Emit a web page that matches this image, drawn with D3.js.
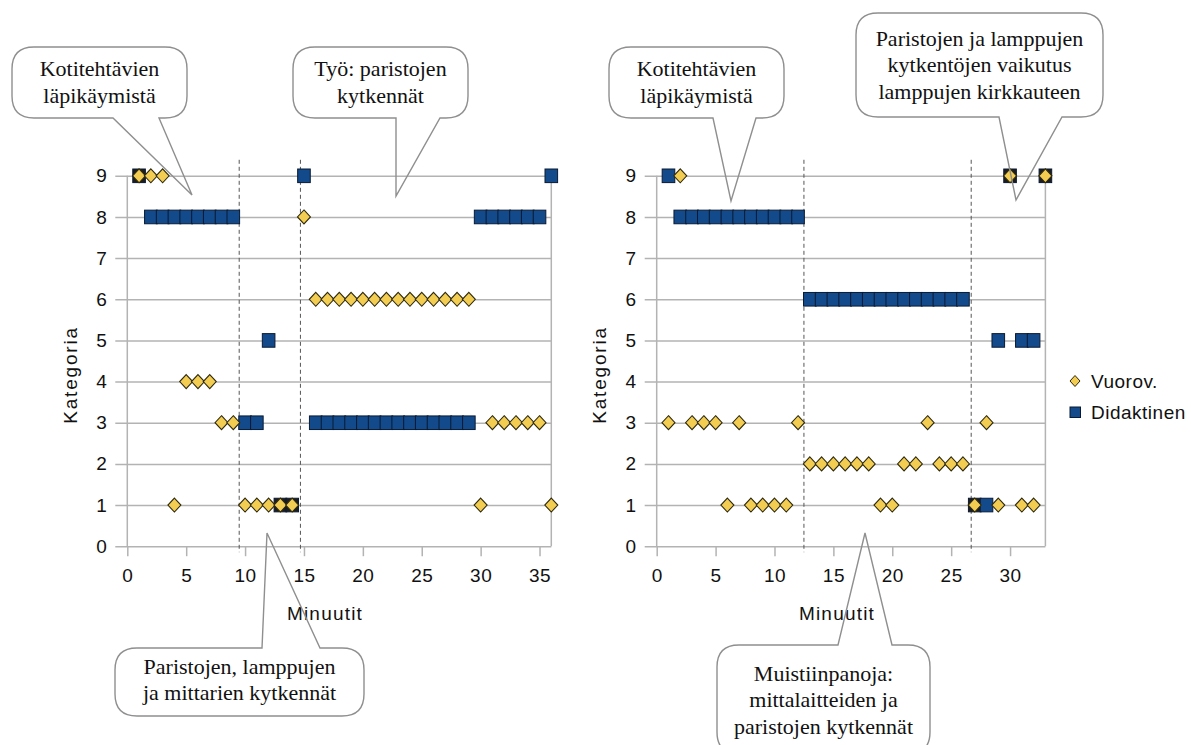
<!DOCTYPE html>
<html>
<head>
<meta charset="utf-8">
<script src="https://d3js.org/d3.v7.min.js"></script>
<style>
    body { margin: 0; background: #fff; }
    svg text { font-family: "Liberation Sans", Arial, sans-serif; }
    .axis text { font-size: 19px; letter-spacing: 0.5px; fill: #111; }
    .axis-title { font-size: 19px; letter-spacing: 1.2px; fill: #111; }
    .legend text { font-size: 19px; letter-spacing: 0.5px; fill: #111; }
    .callout text { font-family: "Liberation Serif", "Times New Roman", serif; font-size: 22px; fill: #111; }
</style>
</head>
<body>
<div id="chart"></div>
<script>

// ---- data: [minuutti, kategoria] ----
var yTicks = [0, 1, 2, 3, 4, 5, 6, 7, 8, 9];
var leftXTicks = [0, 5, 10, 15, 20, 25, 30, 35];
var rightXTicks = [0, 5, 10, 15, 20, 25, 30];
var seriesNames = ["Vuorov.", "Didaktinen"];

var leftVuorov = [
    [1, 9], [2, 9], [3, 9],
    [15, 8],
    [16, 6], [17, 6], [18, 6], [19, 6], [20, 6], [21, 6], [22, 6],
    [23, 6], [24, 6], [25, 6], [26, 6], [27, 6], [28, 6], [29, 6],
    [5, 4], [6, 4], [7, 4],
    [8, 3], [9, 3], [31, 3], [32, 3], [33, 3], [34, 3], [35, 3],
    [4, 1], [10, 1], [11, 1], [12, 1], [13, 1], [14, 1], [30, 1], [36, 1]
];
var leftDidaktinen = [
    [1, 9], [15, 9], [36, 9],
    [2, 8], [3, 8], [4, 8], [5, 8], [6, 8], [7, 8], [8, 8], [9, 8],
    [30, 8], [31, 8], [32, 8], [33, 8], [34, 8], [35, 8],
    [12, 5],
    [10, 3], [11, 3],
    [16, 3], [17, 3], [18, 3], [19, 3], [20, 3], [21, 3], [22, 3],
    [23, 3], [24, 3], [25, 3], [26, 3], [27, 3], [28, 3], [29, 3],
    [13, 1], [14, 1]
];
var leftDividers = [9.5, 14.7];

var rightVuorov = [
    [2, 9], [30, 9], [33, 9],
    [1, 3], [3, 3], [4, 3], [5, 3], [7, 3], [12, 3], [23, 3], [28, 3],
    [13, 2], [14, 2], [15, 2], [16, 2], [17, 2], [18, 2], [21, 2], [22, 2], [24, 2], [25, 2], [26, 2],
    [6, 1], [8, 1], [9, 1], [10, 1], [11, 1], [19, 1], [20, 1], [27, 1], [29, 1], [31, 1], [32, 1]
];
var rightDidaktinen = [
    [1, 9], [30, 9], [33, 9],
    [2, 8], [3, 8], [4, 8], [5, 8], [6, 8], [7, 8], [8, 8], [9, 8], [10, 8], [11, 8], [12, 8],
    [13, 6], [14, 6], [15, 6], [16, 6], [17, 6], [18, 6], [19, 6],
    [20, 6], [21, 6], [22, 6], [23, 6], [24, 6], [25, 6], [26, 6],
    [29, 5], [31, 5], [32, 5],
    [27, 1], [28, 1]
];
var rightDividers = [12.5, 26.7];

// callout texts and where they sit on the page
var callouts = [
    { lines: ["Kotitehtävien", "läpikäymistä"], box: [12, 47, 187, 118], side: "bottom", base: [113, 159], tip: [192, 195] },
    { lines: ["Työ: paristojen", "kytkennät"], box: [293, 47, 468, 118], side: "bottom", base: [396, 440], tip: [396, 196] },
    { lines: ["Kotitehtävien", "läpikäymistä"], box: [609, 47, 784, 118], side: "bottom", base: [713, 756], tip: [731, 201] },
    { lines: ["Paristojen ja lamppujen", "kytkentöjen vaikutus", "lamppujen kirkkauteen"], box: [856, 13, 1103, 117], side: "bottom", base: [999, 1062], tip: [1016, 200] },
    { lines: ["Paristojen, lamppujen", "ja mittarien kytkennät"], box: [115, 648, 364, 716], side: "top", base: [262, 320], tip: [267, 533] },
    { lines: ["Muistiinpanoja:", "mittalaitteiden ja", "paristojen kytkennät"], box: [717, 645, 930, 754], side: "top", base: [838, 892], tip: [865, 533] }
];

var BLUE = "#134a8b", YELLOW = "#f2cd52";

var svg = d3.select("#chart").append("svg")
    .attr("width", 1191)
    .attr("height", 745);


/*
 * TimelineVis - one scatter of minutes vs category
 */
TimelineVis = function(_svg, _vuorov, _didaktinen, _xMax, _xTicks, _dividers, _pos) {
    this.svg = _svg;
    this.vuorov = _vuorov;
    this.didaktinen = _didaktinen;
    this.xMax = _xMax;
    this.xTicks = _xTicks;
    this.dividers = _dividers;
    this.pos = _pos;

    this.initVis();
};

TimelineVis.prototype.initVis = function() {
    var vis = this;

    vis.width = vis.pos.width;
    vis.height = vis.pos.height;

    vis.g = vis.svg.append("g")
        .attr("transform", "translate(" + vis.pos.left + "," + vis.pos.top + ")");

    vis.x = d3.scaleLinear()
        .domain([0, vis.xMax])
        .range([0, vis.width]);

    vis.y = d3.scaleLinear()
        .domain([0, 9])
        .range([vis.height, 0]);

    // y axis doubles as horizontal grid, ticks stick out 12px on the left
    vis.yAxis = d3.axisLeft(vis.y)
        .tickValues(yTicks)
        .tickSize(-(vis.width + 12))
        .tickPadding(8);

    vis.xAxis = d3.axisBottom(vis.x)
        .tickValues(vis.xTicks)
        .tickSize(10)
        .tickPadding(12);

    vis.g.append("g")
        .attr("class", "y-axis axis")
        .attr("transform", "translate(-12,0)")
        .style("color", "#b3b3b3")
        .call(vis.yAxis)
        .call(function(g) { g.select(".domain").remove(); });

    vis.g.append("g")
        .attr("class", "x-axis axis")
        .attr("transform", "translate(0," + vis.height + ")")
        .style("color", "#b3b3b3")
        .call(vis.xAxis)
        .call(function(g) { g.select(".domain").remove(); });

    vis.g.selectAll("line").attr("stroke-width", 1.5);

    // left axis + right frame
    vis.g.selectAll(".frame")
        .data([0, vis.xMax])
        .enter()
        .append("line")
        .attr("class", "frame")
        .attr("x1", function(d) { return vis.x(d); })
        .attr("x2", function(d) { return vis.x(d); })
        .attr("y1", vis.y(9))
        .attr("y2", vis.y(0))
        .attr("stroke", "#b3b3b3")
        .attr("stroke-width", 1.5);

    // phase dividers
    vis.g.selectAll(".divider")
        .data(vis.dividers)
        .enter()
        .append("line")
        .attr("class", "divider")
        .attr("x1", function(d) { return vis.x(d); })
        .attr("x2", function(d) { return vis.x(d); })
        .attr("y1", -16)
        .attr("y2", vis.height + 6)
        .attr("stroke", "#555")
        .attr("stroke-width", 1)
        .attr("stroke-dasharray", "4,3");

    // squares under diamonds; where both coincide the square goes black
    var both = {};
    vis.vuorov.forEach(function(d) { both[d[0] + "_" + d[1]] = true; });

    vis.g.selectAll(".dida")
        .data(vis.didaktinen)
        .enter()
        .append("rect")
        .attr("class", "dida")
        .attr("x", function(d) { return vis.x(d[0]) - 6.3; })
        .attr("y", function(d) { return vis.y(d[1]) - 6.8; })
        .attr("width", 12.6)
        .attr("height", 13.6)
        .attr("fill", function(d) { return both[d[0] + "_" + d[1]] ? "#1d1d1d" : BLUE; })
        .attr("stroke", "#0a1a33")
        .attr("stroke-width", 1);

    vis.g.selectAll(".vuor")
        .data(vis.vuorov)
        .enter()
        .append("path")
        .attr("class", "vuor")
        .attr("d", "M0,-7L6.5,0L0,7L-6.5,0Z")
        .attr("transform", function(d) { return "translate(" + vis.x(d[0]) + "," + vis.y(d[1]) + ")"; })
        .attr("fill", YELLOW)
        .attr("stroke", "#2e2a10")
        .attr("stroke-width", 1.1);

    vis.svg.append("text")
        .attr("class", "axis-title")
        .attr("x", vis.pos.titleX)
        .attr("y", 613)
        .attr("dy", ".35em")
        .style("text-anchor", "middle")
        .text("Minuutit");

    vis.svg.append("text")
        .attr("class", "axis-title")
        .attr("transform", "translate(" + (vis.pos.left - 57) + ",375) rotate(-90)")
        .attr("dy", ".35em")
        .style("text-anchor", "middle")
        .style("letter-spacing", "1.8px")
        .text("Kategoria");
};

var leftVis = new TimelineVis(svg, leftVuorov, leftDidaktinen, 36, leftXTicks, leftDividers,
    { left: 127.3, top: 175.8, width: 424, height: 370.4, titleX: 325 });
var rightVis = new TimelineVis(svg, rightVuorov, rightDidaktinen, 33, rightXTicks, rightDividers,
    { left: 656.7, top: 175.8, width: 388.7, height: 370.4, titleX: 837 });

// legend
var legend = svg.append("g").attr("class", "legend");
legend.append("path")
    .attr("d", "M0,-5.5L5,0L0,5.5L-5,0Z")
    .attr("transform", "translate(1075,381)")
    .attr("fill", YELLOW)
    .attr("stroke", "#2e2a10");
legend.append("rect")
    .attr("x", 1070).attr("y", 407)
    .attr("width", 10.5).attr("height", 10.5)
    .attr("fill", BLUE)
    .attr("stroke", "#0a1a33");
legend.selectAll("text")
    .data(seriesNames)
    .enter()
    .append("text")
    .attr("x", 1091)
    .attr("y", function(d, i) { return 381 + i * 31; })
    .attr("dy", ".35em")
    .text(function(d) { return d; });

// callouts
function calloutPath(c) {
    var x0 = c.box[0], y0 = c.box[1], x1 = c.box[2], y1 = c.box[3], r = 22;
    var p = "M" + (x0 + r) + "," + y0;
    if (c.side === "top") p += "L" + c.base[0] + "," + y0 + "L" + c.tip[0] + "," + c.tip[1] + "L" + c.base[1] + "," + y0;
    p += "L" + (x1 - r) + "," + y0 + "Q" + x1 + "," + y0 + " " + x1 + "," + (y0 + r);
    p += "L" + x1 + "," + (y1 - r) + "Q" + x1 + "," + y1 + " " + (x1 - r) + "," + y1;
    if (c.side === "bottom") p += "L" + c.base[1] + "," + y1 + "L" + c.tip[0] + "," + c.tip[1] + "L" + c.base[0] + "," + y1;
    p += "L" + (x0 + r) + "," + y1 + "Q" + x0 + "," + y1 + " " + x0 + "," + (y1 - r);
    p += "L" + x0 + "," + (y0 + r) + "Q" + x0 + "," + y0 + " " + (x0 + r) + "," + y0 + "Z";
    return p;
}

var co = svg.selectAll(".callout")
    .data(callouts)
    .enter()
    .append("g")
    .attr("class", "callout");

co.append("path")
    .attr("d", calloutPath)
    .attr("fill", "none")
    .attr("stroke", "#8f8f8f")
    .attr("stroke-width", 1.4);

co.each(function(c) {
    var cx = (c.box[0] + c.box[2]) / 2;
    var n = c.lines.length;
    var cy = (c.box[1] + c.box[3]) / 2 + (c.side === "top" ? -2 : 0);
    if (n === 3 && c.side === "top") cy = 700;
    d3.select(this).selectAll("text")
        .data(c.lines)
        .enter()
        .append("text")
        .attr("x", cx)
        .attr("y", function(d, i) { return cy + (i - (n - 1) / 2) * 26.5; })
        .attr("dy", ".32em")
        .style("text-anchor", "middle")
        .text(function(d) { return d; });
});

</script>
</body>
</html>
